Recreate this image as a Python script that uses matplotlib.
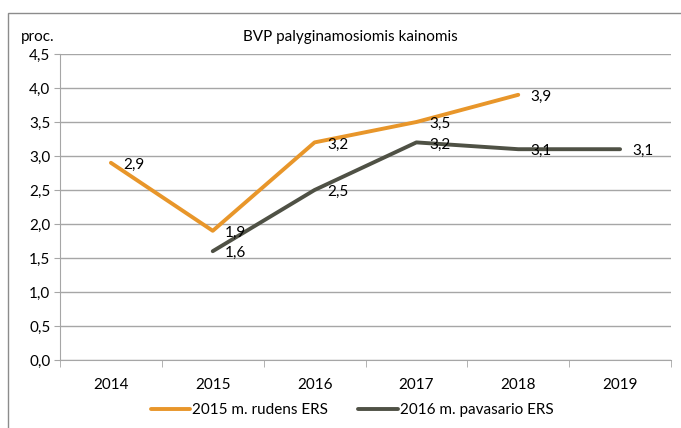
import numpy as np
import matplotlib.pyplot as plt
from matplotlib.patches import Rectangle

years = ['2014', '2015', '2016', '2017', '2018', '2019']
autumn_2015 = [2.9, 1.9, 3.2, 3.5, 3.9, np.nan]
spring_2016 = [np.nan, 1.6, 2.5, 3.2, 3.1, 3.1]
yticks = [0.0, 0.5, 1.0, 1.5, 2.0, 2.5, 3.0, 3.5, 4.0, 4.5]

orange = '#E8962A'
dark = '#4F5145'
grid = '#A6A6A6'

plt.rcParams['font.family'] = ['Lato', 'DejaVu Sans']
fs = 11

fig = plt.figure(figsize=(6.81, 4.28), dpi=100)
ax = fig.add_axes([60/681, 1-360/428, 611/681, 306/428])

x = np.arange(len(years))
ax.plot(x, autumn_2015, color=orange, lw=2.8, solid_capstyle='round', label='2015 m. rudens ERS')
ax.plot(x, spring_2016, color=dark, lw=2.8, solid_capstyle='round', label='2016 m. pavasario ERS')

def fmt(v):
    return ('%.1f' % v).replace('.', ',')

for series in (autumn_2015, spring_2016):
    for xi, v in zip(x, series):
        if not np.isnan(v):
            ax.annotate(fmt(v), (xi, v), xytext=(9, -1.5), textcoords='offset points',
                        ha='left', va='center', fontsize=fs, color='black')

ax.set_xlim(-0.5, len(years) - 0.5)
ax.set_ylim(0, 4.5)
ax.set_yticks(yticks)
ax.set_yticklabels([fmt(v) for v in yticks], fontsize=fs)
ax.set_xticks(x)
ax.set_xticklabels(years, fontsize=fs)
ax.set_xticks(np.arange(-0.5, len(years)), minor=True)
ax.tick_params(axis='x', which='major', length=0, pad=13)
ax.tick_params(axis='x', which='minor', length=5, color=grid, direction='out')
ax.tick_params(axis='y', length=4, color=grid, pad=3)
ax.yaxis.grid(True, color=grid, lw=1)
ax.set_axisbelow(True)
for s in ['top', 'right']:
    ax.spines[s].set_visible(False)
ax.spines['left'].set_color(grid)
ax.spines['bottom'].set_color(grid)

fig.text(350/681, 1-37/428, 'BVP palyginamosiomis kainomis', ha='center', va='center', fontsize=fs)
fig.text(21/681, 1-37/428, 'proc.', ha='left', va='center', fontsize=fs)

fig.legend(loc='center', bbox_to_anchor=(352/681, 1-410/428), ncol=2, frameon=False,
           fontsize=fs, handlelength=2.6, handletextpad=0.1, columnspacing=2.0)

fig.patches.append(Rectangle((8/681, -0.1), 1.2, 1-13/428+0.1, transform=fig.transFigure,
                             fill=False, edgecolor='#8C8C8C', lw=1))

fig.savefig('out.png', dpi=100)
